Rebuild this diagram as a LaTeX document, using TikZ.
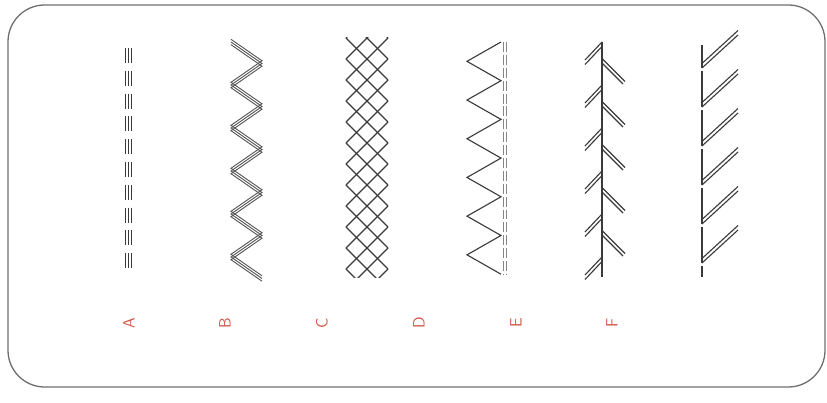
\documentclass[tikz,border=0pt]{standalone}
\usepackage{tikz}
\usetikzlibrary{calc}
\definecolor{stitchgray}{HTML}{3A3A3A}
\definecolor{framegray}{HTML}{6E6E6E}
\definecolor{dashgray}{HTML}{858585}
\definecolor{labelred}{HTML}{D0584A}

\tikzset{
  stitch/.style={line width=0.95pt, stitchgray},
  thinstitch/.style={line width=0.8pt, stitchgray!85},
  letter/.style={font=\fontsize{14}{14}\selectfont\sffamily, labelred, rotate=90},
}

\begin{document}
\begin{tikzpicture}[x=0.03cm, y=-0.03cm]
    \useasboundingbox (0,0) rectangle (827,403);

    % Frame
    \draw[line width=1.1pt, framegray, rounded corners=1.1cm] (8,5) rectangle (825,387);

    % A: straight stitch, three rows of dashes
    \foreach \k in {0,...,9} {
        \foreach \dx in {-3.3,0,3.3}
            \draw[stitch] ({128.5+\dx},{48+22.8*\k}) -- ++(0,15);
    }

    % B: triple zigzag
    \foreach \dy in {-2.7,0,2.7} {
        \draw[thinstitch, line join=miter] (231,42+\dy)
            \foreach \k in {1,...,11} { -- ({231+31*mod(\k,2)},{42+21.5*\k+\dy}) };
    }

    % C: lattice
    \begin{scope}
        \clip (345,38) rectangle (389,278);
        \foreach \k in {-3,...,14} {
            \draw[stitch] (346,{38+21*\k}) -- (388,{80+21*\k});
            \draw[stitch] (346,{38+21*\k}) -- (388,{-4+21*\k});
        }
    \end{scope}

    % D: blind hem, zigzag and double dashed edge
    \draw[stitch] (501,42)
        \foreach \k in {1,...,12} { -- ({501-34*mod(\k,2)},{42+19.35*\k}) };
    \foreach \x in {503.5,506.5}
        \draw[dashgray, line width=0.7pt, dash pattern=on 8.5pt off 2.5pt] (\x,42) -- (\x,275);

    % E: feather stitch
    \draw[stitch] (602,42) -- (602,277);
    \foreach \k in {0,...,5} {
        \draw[stitch] (585,{60+43*\k}) -- (602,{42+43*\k});
        \draw[stitch] (585,{64.5+43*\k}) -- (602,{46.5+43*\k});
    }
    \foreach \k in {0,...,4} {
        \draw[stitch] (602,{63+43*\k}) -- (623,{84+43*\k});
        \draw[stitch] (602,{58.5+43*\k}) -- (625,{81.5+43*\k});
    }

    % F: slanted overlock
    \draw[stitch] (702,45) -- (702,68);
    \foreach \k in {0,...,5} {
        \draw[stitch] (702,{68+39*\k}) -- (738,{35+39*\k});
        \draw[stitch] (702,{63.5+39*\k}) -- (738,{30.5+39*\k});
    }
    \foreach \k in {0,...,4}
        \draw[stitch] (702,{71+39*\k}) -- (702,{107+39*\k});
    \draw[stitch] (702,266) -- (702,277);

    % Labels
    \node[letter] (labA) at (129,323) {A};
    \node[letter] (labB) at (225,323) {B};
    \node[letter] (labC) at (322,323) {C};
    \node[letter] (labD) at (419,323) {D};
    \node[letter] (labE) at (516,323) {E};
    \node[letter] (labF) at (612,323) {F};

\end{tikzpicture}
\end{document}
